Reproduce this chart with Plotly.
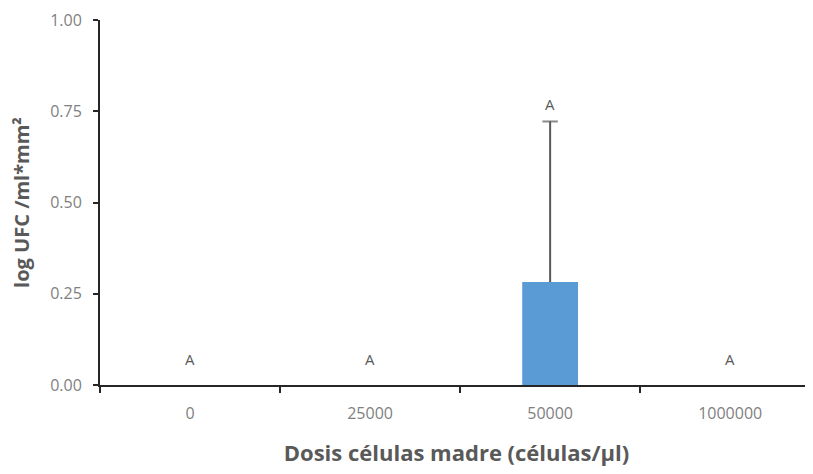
import plotly.graph_objects as go

categories = ["0", "25000", "50000", "1000000"]
values = [0.0, 0.0, 0.282, 0.0]
errors = [0.0, 0.0, 0.44, 0.0]
letters = ["A", "A", "A", "A"]
letter_y = [0.071, 0.071, 0.77, 0.071]
y_ticks = [0, 0.25, 0.5, 0.75, 1.0]
y_ticklabels = ["0.00", "0.25", "0.50", "0.75", "1.00"]

xs = list(range(len(categories)))
fig = go.Figure()
fig.add_trace(go.Bar(
    x=xs, y=values, width=0.31,
    marker=dict(color="#5B9BD5", line=dict(width=0)),
    showlegend=False, hoverinfo="skip",
))
# error bars (upper only, cap at top) drawn from values + errors
for x, v, e in zip(xs, values, errors):
    if e > 0:
        fig.add_trace(go.Scatter(
            x=[x, x], y=[v, v + e], mode="lines+markers",
            line=dict(color="#595959", width=2),
            marker=dict(symbol="line-ew", size=[0, 11],
                        line=dict(color="#595959", width=2)),
            showlegend=False, hoverinfo="skip",
        ))
for i, (t, yy) in enumerate(zip(letters, letter_y)):
    fig.add_annotation(x=i, y=yy, text=t, showarrow=False,
                       font=dict(family="Open Sans", size=15, color="#595959"))

fig.update_layout(
    width=805, height=466,
    margin=dict(l=92, r=0, t=12, b=89, autoexpand=False),
    plot_bgcolor="white", paper_bgcolor="white",
    font=dict(family="Open Sans", color="#7f7f7f"),
)
fig.update_xaxes(
    tickmode="array", tickvals=xs, ticktext=categories,
    range=[-0.5, 3.46], showline=True, linecolor="#262626", linewidth=2,
    ticks="", showgrid=False, zeroline=False, ticklabelstandoff=13,
    tickfont=dict(size=16, color="#7f7f7f"),
    title=dict(text="<b>Dosis células madre (células/µl)</b>", standoff=22,
               font=dict(size=22, color="#595959", family="Open Sans")),
    minor=dict(tickvals=[-0.5, 0.5, 1.5, 2.5, 3.5], ticks="outside",
               ticklen=6, tickwidth=2, tickcolor="#262626", showgrid=False),
)
fig.update_yaxes(
    range=[0, 1.0], tickvals=y_ticks, ticktext=y_ticklabels,
    showline=True, linecolor="#262626", linewidth=2,
    ticks="outside", ticklen=5, tickwidth=2, tickcolor="#262626",
    showgrid=False, zeroline=False, ticklabelstandoff=8,
    tickfont=dict(size=16, color="#7f7f7f"),
    title=dict(text="<b>log UFC /ml*mm²</b>", standoff=15,
               font=dict(size=20, color="#595959", family="Open Sans")),
)
fig.write_html("out.html")
